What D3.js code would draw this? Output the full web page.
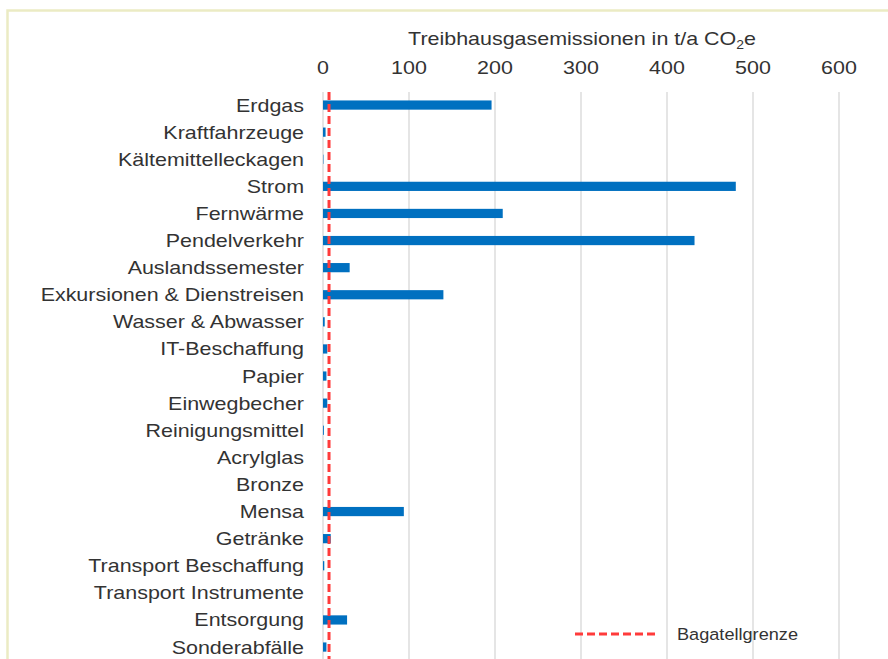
<!DOCTYPE html>
<meta charset="utf-8">
<html>
  <head>
    <script src="https://d3js.org/d3.v7.min.js"></script>
    <style>
      body { margin: 0; background: white; }
      text { font-family: "Liberation Sans", Arial, sans-serif; fill: #333333; }
    </style>
  </head>
  <body>
  <svg id="chart"></svg>
  <script>
    // categories and values (t/a CO2e)
    var categories = ["Erdgas", "Kraftfahrzeuge", "Kältemittelleckagen", "Strom", "Fernwärme",
      "Pendelverkehr", "Auslandssemester", "Exkursionen & Dienstreisen", "Wasser & Abwasser",
      "IT-Beschaffung", "Papier", "Einwegbecher", "Reinigungsmittel", "Acrylglas", "Bronze",
      "Mensa", "Getränke", "Transport Beschaffung", "Transport Instrumente", "Entsorgung",
      "Sonderabfälle"];
    var emissions = [196, 3, 0.5, 480, 209, 432, 31, 140, 2, 5, 4, 5, 1, 0, 0, 94, 9, 1.5, 0, 28, 4];
    var xTicks = [0, 100, 200, 300, 400, 500, 600];
    var bagatellgrenze = 7;

    var width = 888, height = 659;
    var sx = 1.16; // text in the picture is a bit stretched sideways
    var fs = "18.5px";

    var svg = d3.select("#chart")
        .attr("width", width)
        .attr("height", height);

    // frame
    svg.append("rect")
        .attr("x", 7.5).attr("y", 10.5)
        .attr("width", 900).attr("height", 700)
        .attr("fill", "white")
        .attr("stroke", "#ebebc4")
        .attr("stroke-width", 2.5);

    var x = d3.scaleLinear()
        .domain([0, 600])
        .range([323, 839]);

    var y = d3.scaleBand()
        .domain(categories)
        .range([91.5, 660.6])
        .paddingInner(0.66)
        .paddingOuter(0.33);

    var data = categories.map(function(c, i) { return {name: c, value: emissions[i]}; });

    // gridlines
    svg.append("g")
      .selectAll("line")
      .data(xTicks)
      .enter().append("line")
        .attr("x1", function(d) { return x(d); })
        .attr("x2", function(d) { return x(d); })
        .attr("y1", 92)
        .attr("y2", height)
        .attr("stroke", "#dcdcdc")
        .attr("stroke-width", 1.5);

    // tick labels (top)
    svg.append("g")
      .selectAll("text")
      .data(xTicks)
      .enter().append("text")
        .attr("transform", function(d) { return "translate(" + x(d) + ",74) scale(" + sx + ",1)"; })
        .attr("text-anchor", "middle")
        .attr("font-size", fs)
        .text(function(d) { return d; });

    // axis title
    var title = svg.append("text")
        .attr("transform", "translate(582,45) scale(" + sx + ",1)")
        .attr("text-anchor", "middle")
        .attr("font-size", fs);
    title.append("tspan").text("Treibhausgasemissionen in t/a CO");
    title.append("tspan").attr("font-size", "12px").attr("dy", 4).text("2");
    title.append("tspan").attr("dy", -4).text("e");

    // category labels
    svg.append("g")
      .selectAll("text")
      .data(categories)
      .enter().append("text")
        .attr("transform", function(d) {
          return "translate(304," + (y(d) + y.bandwidth() / 2 + 6.5) + ") scale(" + sx + ",1)";
        })
        .attr("text-anchor", "end")
        .attr("font-size", fs)
        .text(function(d) { return d; });

    // bars
    svg.append("g")
      .selectAll("rect")
      .data(data)
      .enter().append("rect")
        .attr("x", x(0))
        .attr("y", function(d) { return y(d.name); })
        .attr("width", function(d) { return x(d.value) - x(0); })
        .attr("height", y.bandwidth())
        .attr("fill", "#0070c0");

    // Bagatellgrenze line
    svg.append("line")
        .attr("x1", x(bagatellgrenze)).attr("x2", x(bagatellgrenze))
        .attr("y1", 92).attr("y2", height)
        .attr("stroke", "#ff3b3b")
        .attr("stroke-width", 3)
        .attr("stroke-dasharray", "8,4");

    // legend
    svg.append("line")
        .attr("x1", 575).attr("x2", 659)
        .attr("y1", 634).attr("y2", 634)
        .attr("stroke", "#ff3b3b")
        .attr("stroke-width", 3)
        .attr("stroke-dasharray", "8,4");
    svg.append("text")
        .attr("transform", "translate(677,639.5) scale(1.1,1)")
        .attr("font-size", "16.5px")
        .text("Bagatellgrenze");
  </script>
  </body>
</html>
